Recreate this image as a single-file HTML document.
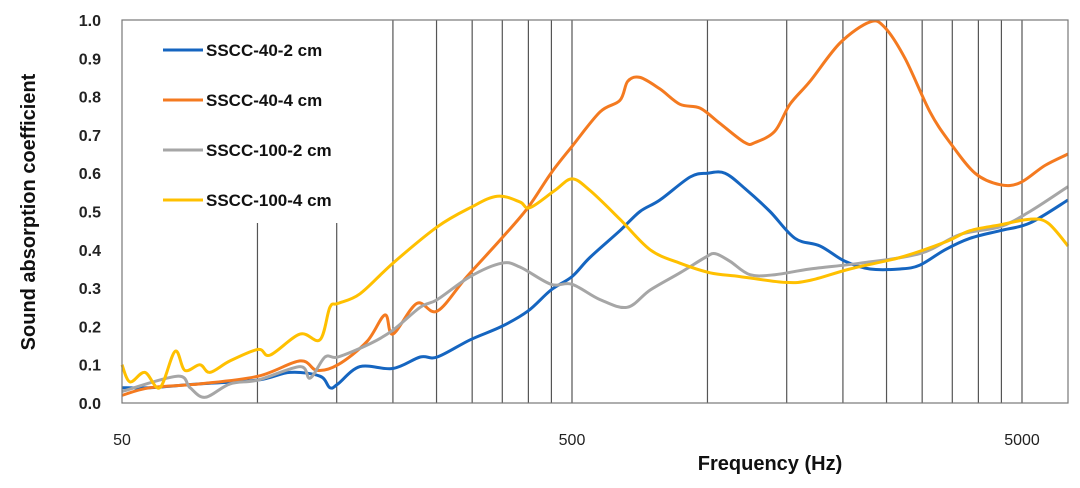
<!DOCTYPE html>
<html><head><meta charset="utf-8"><style>
body{margin:0;background:#fff;}
svg text{font-family:"Liberation Sans",Arial,sans-serif;}
</style></head><body>
<svg id="chart" width="1080" height="483" viewBox="0 0 1080 483" xmlns="http://www.w3.org/2000/svg">
<rect x="0" y="0" width="1080" height="483" fill="#fff"/>
<g id="grid"></g>
<g id="series"></g>
<g id="axes"></g>
<g id="legend"></g>
</svg>
<script>
const yTicks=[0,0.1,0.2,0.3,0.4,0.5,0.6,0.7,0.8,0.9,1.0];
const xTicks=[50,500,5000];
const gridFreqs=[100,150,200,250,300,350,400,450,500,1000,1500,2000,2500,3000,3500,4000,4500,5000];
const shortGrid=[100,150];
const seriesNames=["SSCC-40-2 cm","SSCC-40-4 cm","SSCC-100-2 cm","SSCC-100-4 cm"];
const seriesColors=["#1565c0","#f47a20","#a6a6a6","#ffc000"];
const f1=[50,57.7,74.5,100.4,118.1,137.7,144.9,151,169,200,230,251,297,349,399,449,500,548,639,708,784,915,1000,1094,1211,1377,1565,1779,2021,2297,2678,2966,3371,3831,4467,5206,6328];
const v1=[0.04,0.04,0.05,0.06,0.08,0.07,0.04,0.05,0.095,0.09,0.12,0.12,0.165,0.20,0.24,0.295,0.33,0.38,0.45,0.50,0.53,0.59,0.60,0.60,0.56,0.50,0.43,0.41,0.37,0.35,0.35,0.36,0.40,0.43,0.45,0.47,0.53];
const f2=[50,57.7,74.5,100.4,124.3,135.6,151,175,192,200,226,251,292,349,399,449,500,577,639,665,708,784,869,963,1066,1211,1275,1412,1525,1690,1970,2297,2481,2748,3122,3460,3931,4467,4950,5621,6328];
const v2=[0.02,0.04,0.05,0.07,0.11,0.085,0.10,0.16,0.23,0.18,0.26,0.24,0.33,0.43,0.51,0.60,0.67,0.76,0.79,0.84,0.85,0.82,0.78,0.77,0.73,0.68,0.68,0.71,0.78,0.84,0.94,0.995,0.98,0.90,0.76,0.68,0.60,0.57,0.575,0.62,0.65];
const f3=[50,66.3,70.8,76.5,86.9,100.4,124.3,130.9,141.3,151,178,200,230,251,297,349,383,449,500,577,663,746,869,988,1040,1122,1243,1412,1690,2183,2966,3640,4467,5206,6328];
const v3=[0.03,0.07,0.04,0.015,0.05,0.06,0.095,0.065,0.12,0.12,0.155,0.19,0.25,0.27,0.33,0.365,0.355,0.31,0.31,0.27,0.25,0.295,0.34,0.38,0.39,0.37,0.335,0.335,0.35,0.365,0.39,0.44,0.46,0.50,0.565];
const f4=[50,52.1,56.2,60.7,65.6,69.0,74.5,78.4,86.9,100.4,106.7,124.3,137.7,144.9,151,169,200,251,297,341,383,403,458,500,548,639,746,869,1013,1181,1487,1690,2073,2678,3371,3831,4467,5206,5709,6328];
const v4=[0.10,0.055,0.08,0.04,0.135,0.085,0.10,0.08,0.11,0.14,0.125,0.18,0.165,0.25,0.26,0.285,0.365,0.46,0.51,0.54,0.525,0.51,0.555,0.585,0.555,0.48,0.40,0.365,0.34,0.33,0.315,0.32,0.35,0.38,0.42,0.45,0.465,0.48,0.47,0.41];
const allF=[f1,f2,f3,f4], allV=[v1,v2,v3,v4];

const L=122,R=1068,T=20,B=403;
const xScale=f=>L+450*Math.log10(f/50);
const yScale=v=>B-(B-T)*v;
const NS="http://www.w3.org/2000/svg";
function mk(tag,attrs,parent){const e=document.createElementNS(NS,tag);for(const k in attrs)e.setAttribute(k,attrs[k]);parent.appendChild(e);return e;}
const grid=document.getElementById('grid'),series=document.getElementById('series'),axes=document.getElementById('axes'),legend=document.getElementById('legend');

gridFreqs.forEach(f=>{
  const x=xScale(f);
  const top=shortGrid.includes(f)?yScale(0.47):T;
  const ln=mk('line',{x1:x,x2:x,y1:top,y2:B,stroke:'#555','stroke-width':1.2},grid);
  
  
});
const frame=mk('rect',{x:L,y:T,width:R-L,height:B-T,fill:'none',stroke:'#777','stroke-width':1.2},axes);



yTicks.forEach(v=>{
  const t=mk('text',{x:101,y:yScale(v)+6,'text-anchor':'end','font-size':16,'font-weight':'bold',fill:'#222'},axes);
  t.textContent=v.toFixed(1);
  
  
});
xTicks.forEach(f=>{
  const t=mk('text',{x:xScale(f),y:445,'text-anchor':'middle','font-size':16,fill:'#222'},axes);
  t.textContent=String(f);
  
  
});
const xt=mk('text',{x:770,y:470,'text-anchor':'middle','font-size':20,'font-weight':'bold',fill:'#111'},axes);
xt.textContent='Frequency (Hz)';


const yt=mk('text',{x:0,y:0,'text-anchor':'middle','font-size':20,'font-weight':'bold',fill:'#111',transform:'translate(35,212) rotate(-90)'},axes);
yt.textContent='Sound absorption coefficient';



function smoothPath(pts){
  let d='M'+pts[0][0].toFixed(1)+' '+pts[0][1].toFixed(1);
  for(let i=0;i<pts.length-1;i++){
    const p0=pts[Math.max(0,i-1)],p1=pts[i],p2=pts[i+1],p3=pts[Math.min(pts.length-1,i+2)];
    const c1x=p1[0]+(p2[0]-p0[0])/6,c1y=p1[1]+(p2[1]-p0[1])/6;
    const c2x=p2[0]-(p3[0]-p1[0])/6,c2y=p2[1]-(p3[1]-p1[1])/6;
    d+=' C'+c1x.toFixed(1)+' '+c1y.toFixed(1)+' '+c2x.toFixed(1)+' '+c2y.toFixed(1)+' '+p2[0].toFixed(1)+' '+p2[1].toFixed(1);
  }
  return d;
}
allF.forEach((fs,i)=>{
  const pts=fs.map((f,j)=>[xScale(f),yScale(allV[i][j])]);
  const p=mk('path',{d:smoothPath(pts),fill:'none',stroke:seriesColors[i],'stroke-width':3,'stroke-linejoin':'round'},series);
  
  
});

seriesNames.forEach((n,i)=>{
  const y=50+50*i;
  const g=mk('g',{},legend);
  
  
  mk('line',{x1:163,x2:203,y1:y,y2:y,stroke:seriesColors[i],'stroke-width':3},g);
  const t=mk('text',{x:206,y:y+6,'font-size':17,'font-weight':'bold',fill:'#111'},g);
  t.textContent=n;
});
</script>
</body></html>
